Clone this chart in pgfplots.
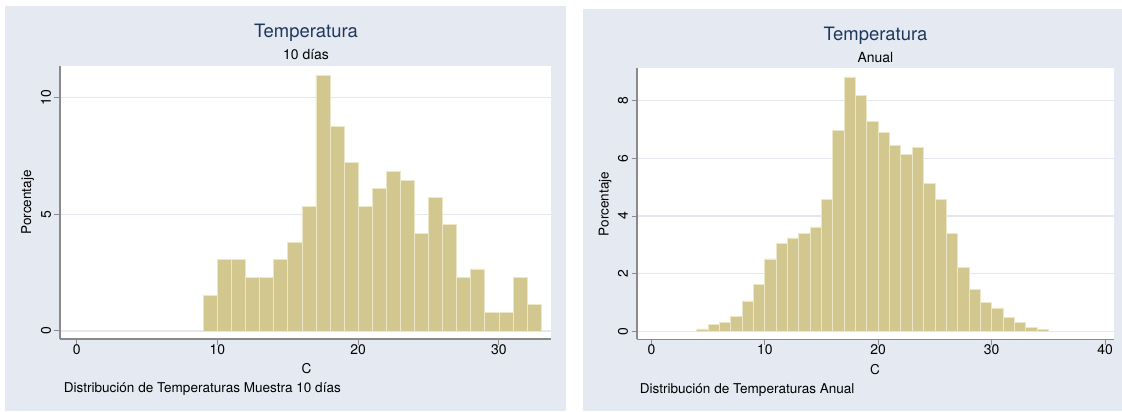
\documentclass[border=0pt]{standalone}
\usepackage{fontspec}
\setmainfont{TeX Gyre Heros}
\usepackage{pgfplots}
\pgfplotsset{compat=1.18}

\definecolor{panelbg}{RGB}{229,233,242}
\definecolor{barfill}{RGB}{209,199,143}
\definecolor{baredge}{RGB}{236,231,198}
\definecolor{titlenavy}{RGB}{30,55,92}
\definecolor{gridc}{RGB}{228,231,240}
\definecolor{axisc}{RGB}{138,138,138}

% Histogram bin heights (percent), bins of width 1 degree
\pgfplotstableread{
x   y
9   1.53
10  3.06
11  3.06
12  2.30
13  2.30
14  3.06
15  3.81
16  5.34
17  10.97
18  8.76
19  7.22
20  5.34
21  6.10
22  6.85
23  6.46
24  4.18
25  5.71
26  4.56
27  2.30
28  2.66
29  0.78
30  0.78
31  2.30
32  1.15
33  1.15
}\diezdias

\pgfplotstableread{
x   y
4   0.08
5   0.23
6   0.29
7   0.52
8   1.05
9   1.61
10  2.51
11  3.06
12  3.24
13  3.39
14  3.62
15  4.58
16  6.98
17  8.83
18  8.20
19  7.28
20  6.91
21  6.46
22  6.15
23  6.39
24  5.12
25  4.58
26  3.39
27  2.20
28  1.45
29  0.99
30  0.81
31  0.47
32  0.32
33  0.14
34  0.06
35  0.06
}\anual

\pgfplotsset{
  stataplot/.style={
    scale only axis,
    anchor=south west,
    axis background/.style={fill=white},
    axis x line*=bottom,
    axis y line*=left,
    axis line style={axisc, line width=1.2bp, -},
    tick align=outside,
    major tick length=5.5bp,
    every tick/.style={axisc, line width=1bp},
    ymajorgrids,
    grid style={gridc, line width=1.3bp},
    /pgf/number format/assume math mode=true,
    tick label style={font=\fontsize{14}{16}\selectfont},
    xticklabel style={anchor=base, yshift=-10bp},
    yticklabel style={rotate=90, anchor=south},
  },
  histbar/.style={ybar interval, fill=barfill, draw=baredge, line width=0.8bp},
}

\begin{document}
\begin{tikzpicture}[x=1bp,y=1bp]
\path[use as bounding box] (0,0) rectangle (1122,411);
\fill[white] (0,0) rectangle (1122,411);
\fill[panelbg] (5,0.5) rectangle (565.5,405);
\fill[panelbg] (582.5,0.5) rectangle (1122,402);

% Left panel: 10-day sample
\begin{axis}[stataplot,
  at={(60bp,72bp)}, width=491bp, height=273.3bp,
  xmin=-1.19, xmax=33.7, ymin=-0.343, ymax=11.37,
  xtick={0,10,20,30}, ytick={0,5,10}]
\addplot[histbar] table[x=x, y=y] {\diezdias};
\end{axis}

% Right panel: whole year
\begin{axis}[stataplot,
  at={(637bp,71.7bp)}, width=476.5bp, height=271bp,
  xmin=-1.27, xmax=40.75, ymin=-0.28, ymax=9.13,
  xtick={0,10,20,30,40}, ytick={0,2,4,6,8}]
\addplot[histbar] table[x=x, y=y] {\anual};
\end{axis}

% Titles, axis titles and notes
\node[anchor=base, text=titlenavy, font=\fontsize{18.5}{20}\selectfont, inner sep=0] at (306,373.7) {Temperatura};
\node[anchor=base, font=\fontsize{14}{16}\selectfont, inner sep=0] at (306,351.7) {10 días};
\node[anchor=base, font=\fontsize{13.6}{15}\selectfont, inner sep=0] at (306.5,37.7) {C};
\node[anchor=base west, font=\fontsize{13.6}{15}\selectfont, inner sep=0] at (63.6,18.3) {Distribución de Temperaturas Muestra 10 días};
\node[anchor=base, rotate=90, font=\fontsize{13.6}{15}\selectfont, inner sep=0] at (31.2,208.5) {Porcentaje};

\node[anchor=base, text=titlenavy, font=\fontsize{18.5}{20}\selectfont, inner sep=0] at (875.5,371) {Temperatura};
\node[anchor=base, font=\fontsize{14}{16}\selectfont, inner sep=0] at (875.5,348.3) {Anual};
\node[anchor=base, font=\fontsize{13.6}{15}\selectfont, inner sep=0] at (875,37) {C};
\node[anchor=base west, font=\fontsize{13.6}{15}\selectfont, inner sep=0] at (639.6,17.7) {Distribución de Temperaturas Anual};
\node[anchor=base, rotate=90, font=\fontsize{13.6}{15}\selectfont, inner sep=0] at (608.5,207) {Porcentaje};
\end{tikzpicture}
\end{document}
